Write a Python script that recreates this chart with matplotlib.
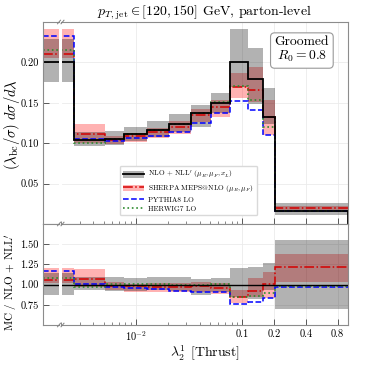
import numpy as np
import matplotlib
matplotlib.use("Agg")
import matplotlib.pyplot as plt
from matplotlib.patches import Patch
from matplotlib.lines import Line2D
from matplotlib.ticker import FixedLocator, NullFormatter, NullLocator

plt.rcParams.update({
    "font.family": "serif",
    "font.serif": ["cmr10"],
    "mathtext.fontset": "cm",
    "axes.formatter.use_mathtext": True,
    "axes.unicode_minus": False,
})

# bin edges in lambda; the first bin is the underflow, also shown left of the break
edges = [1e-4, 0.0026, 0.0051, 0.0078, 0.0127, 0.0205, 0.033, 0.051, 0.078,
         0.115, 0.159, 0.206, 1.0]

nll = [0.200, 0.104, 0.1052, 0.111, 0.1163, 0.1238, 0.1378, 0.150, 0.2009,
       0.179, 0.1328, 0.0165]
nll_lo = [0.1753, 0.0968, 0.0975, 0.1025, 0.108, 0.1143, 0.1205, 0.137, 0.170,
          0.148, 0.124, 0.0115]
nll_hi = [0.229, 0.1135, 0.1155, 0.1205, 0.1275, 0.1358, 0.1473, 0.1617, 0.241,
          0.2174, 0.168, 0.0256]

sherpa = [0.2104, 0.1112, 0.104, 0.1085, 0.1135, 0.1205, 0.135, 0.1445, 0.170,
          0.1658, 0.133, 0.0201]
sherpa_lo = [0.205, 0.1005, 0.0985, 0.1015, 0.106, 0.112, 0.126, 0.133, 0.1556,
             0.1514, 0.110, 0.0170]
sherpa_hi = [0.241, 0.1235, 0.109, 0.1125, 0.119, 0.127, 0.142, 0.153, 0.1865,
             0.1947, 0.1535, 0.0228]

pythia = [0.2327, 0.1052, 0.1027, 0.106, 0.1095, 0.1143, 0.1246, 0.137, 0.1522,
          0.141, 0.110, 0.0161]
herwig = [0.2153, 0.1003, 0.1055, 0.112, 0.1165, 0.1235, 0.137, 0.1505, 0.171,
          0.1535, 0.1197, 0.0163]

GRAY = "black"
GRAY_A = 0.3
PINK = "red"
PINK_A = 0.3


def draw(axl, axr, central, lo, hi, mcs, main=True):
    for ax, ed in ((axl, [0, 1]), (axr, edges)):
        n = len(ed) - 1
        ax.stairs(hi[1][:n], ed, baseline=lo[1][:n], fill=True, color=PINK, alpha=PINK_A, lw=0)
        ax.stairs(hi[0][:n], ed, baseline=lo[0][:n], fill=True, color=GRAY, alpha=GRAY_A, lw=0)
        for vals, c, ls, lw in mcs:
            ax.stairs(vals[:n], ed, baseline=None, color=c, ls=ls, lw=lw)
        if main and ax is axr:
            ax.stairs(central[:n], ed, baseline=0, color="black", lw=1.3)
        else:
            ax.stairs(central[:n], ed, baseline=None, color="black", lw=1.3 if main else 1.0)


W, H = 366.0, 366.0
fig = plt.figure(figsize=(W / 100, H / 100), dpi=100)


def box(x0, x1, y0, y1):
    return [x0 / W, 1 - y1 / H, (x1 - x0) / W, (y1 - y0) / H]


axl = fig.add_axes(box(43, 58.5, 22, 224))
axr = fig.add_axes(box(61.5, 348, 22, 224))
rxl = fig.add_axes(box(43, 58.5, 224, 325))
rxr = fig.add_axes(box(61.5, 348, 224, 325))

nll_a = np.array(nll)
mc_main = [
    (np.array(sherpa), "#d40000", "-.", 1.1),
    (np.array(pythia), "blue", "--", 1.1),
    (np.array(herwig), "#2e8b2e", ":", 1.2),
]
draw(axl, axr, nll_a, [np.array(nll_lo), np.array(sherpa_lo)],
     [np.array(nll_hi), np.array(sherpa_hi)], mc_main)

mc_ratio = [(v / nll_a, c, ls, lw) for v, c, ls, lw in mc_main]
draw(rxl, rxr, nll_a / nll_a,
     [np.array(nll_lo) / nll_a, np.array(sherpa_lo) / nll_a],
     [np.array(nll_hi) / nll_a, np.array(sherpa_hi) / nll_a], mc_ratio, main=False)

spine_c = "0.55"
for ax in (axl, axr, rxl, rxr):
    for s in ax.spines.values():
        s.set_color(spine_c)
        s.set_linewidth(0.8)
    ax.tick_params(which="both", direction="in", colors="0.35", labelcolor="black",
                   labelsize=7.5, pad=3)
    ax.tick_params(which="major", length=4, width=0.7)
    ax.tick_params(which="minor", length=2.2, width=0.5)
    ax.grid(True, which="major", color="0.92", lw=0.6)
    ax.set_axisbelow(True)

for ax in (axl, rxl):
    ax.set_xlim(0, 1)
    ax.spines["right"].set_visible(False)
    ax.xaxis.set_major_locator(NullLocator())
    ax.xaxis.set_minor_locator(NullLocator())
for ax in (axr, rxr):
    ax.set_xscale("log")
    ax.set_xlim(0.002, 1.0)
    ax.spines["left"].set_visible(False)
    ax.tick_params(axis="y", which="both", left=False, labelleft=False)
    ax.xaxis.set_major_locator(FixedLocator([0.01, 0.1, 0.2, 0.4, 0.8]))
    ax.xaxis.set_minor_locator(FixedLocator(
        [k * 1e-3 for k in range(2, 10)] + [k * 1e-2 for k in range(2, 10)]))
    ax.xaxis.set_minor_formatter(NullFormatter())

for ax in (axl, axr):
    ax.set_ylim(0, 0.25)
    ax.yaxis.set_major_locator(FixedLocator([0.05, 0.10, 0.15, 0.20]))
for ax in (rxl, rxr):
    ax.set_ylim(0.5, 1.75)
    ax.yaxis.set_major_locator(FixedLocator([0.75, 1.0, 1.25, 1.5]))

axl.set_yticklabels(["0.05", "0.10", "0.15", "0.20"])
rxl.set_yticklabels(["0.75", "1.00", "1.25", "1.50"])
axr.set_xticklabels([])
rxr.set_xticklabels([r"$10^{-2}$", "0.1", "0.2", "0.4", "0.8"])

axr.set_title(r"$p_{T,\,\mathrm{jet}} \in [120, 150]$ GeV, parton-level", fontsize=10, pad=4)
fig.text(12 / W, 1 - 125 / H, r"$(\lambda_{\mathrm{bc}}/\sigma)\; d\sigma/d\lambda$",
         rotation=90, ha="center", va="center", fontsize=10.5)
fig.text(12 / W, 1 - 282 / H, r"MC / NLO + NLL$'$",
         rotation=90, ha="center", va="center", fontsize=8)
rxr.set_xlabel(r"$\lambda_2^1$ [Thrust]", fontsize=10, labelpad=1)

axr.text(0.839, 0.862, "Groomed\n$R_0 = 0.8$", transform=axr.transAxes, ha="center",
         va="center", fontsize=9.8, linespacing=1.1,
         bbox=dict(boxstyle="round,pad=0.3", fc="white", ec="0.6", lw=0.8))

handles = [
    (Patch(color=GRAY, alpha=GRAY_A, lw=0), Line2D([], [], color="black", lw=1.3)),
    (Patch(color=PINK, alpha=PINK_A, lw=0), Line2D([], [], color="#d40000", ls="-.", lw=1.1)),
    Line2D([], [], color="blue", ls="--", lw=1.1),
    Line2D([], [], color="#2e8b2e", ls=":", lw=1.2),
]
labels = [r"NLO + NLL$'$ $(\mu_R, \mu_F, x_L)$",
          r"SHERPA MEPS@NLO $(\mu_R, \mu_F)$",
          "PYTHIA8 LO", "HERWIG7 LO"]
axr.legend(handles, labels, loc="lower left", bbox_to_anchor=(0.19, 0.025),
           fontsize=5.3, frameon=True, framealpha=1, edgecolor="0.85",
           handlelength=2.8, handleheight=0.9, borderpad=0.5, labelspacing=0.28,
           handletextpad=0.6)

# axis break marks
for yb in (22, 224, 325):
    for xb in (57.5, 61.0):
        fig.add_artist(Line2D([xb / W, (xb + 3) / W], [1 - (yb + 1.8) / H, 1 - (yb - 1.8) / H],
                              color="0.5", lw=0.7))

fig.savefig("out.png", dpi=100)
